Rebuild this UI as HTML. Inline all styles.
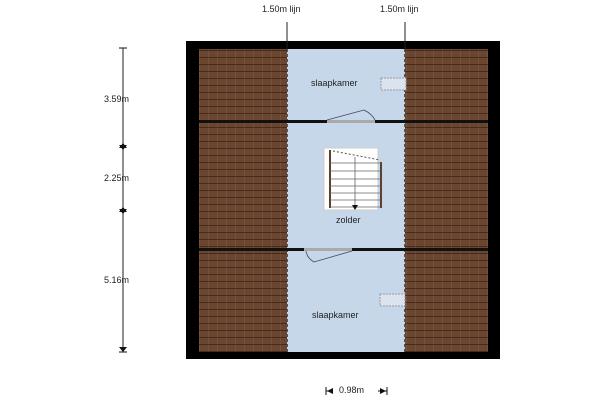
<!DOCTYPE html>
<html><head><style>
body{margin:0;width:600px;height:400px;background:#fff;position:relative;overflow:hidden;font-family:"Liberation Sans",sans-serif;}
.a{position:absolute}
.roof{background-color:#6a4530;background-image:repeating-linear-gradient(0deg,rgba(30,18,10,.5) 0 1px,transparent 1px 7px),repeating-linear-gradient(90deg,rgba(150,110,80,.3) 0 1px,transparent 1px 9px);}
.t{position:absolute;font-size:9px;color:#222;white-space:nowrap}
</style></head><body>
<div class="a" style="left:186px;top:41px;width:314px;height:318px;background:#000"></div>
<div class="a roof" style="left:199px;top:49px;width:289px;height:303px"></div>
<div class="a" style="left:287px;top:49px;width:118px;height:303px;background:#c6d7ea;border-left:1px dashed #555;border-right:1px dashed #555;box-sizing:border-box"></div>
<div class="a" style="left:199px;top:120px;width:289px;height:3px;background:#111"></div>
<div class="a" style="left:199px;top:248px;width:289px;height:3px;background:#111"></div>
<div class="a" style="left:327px;top:120px;width:48px;height:3px;background:#aaa"></div>
<div class="a" style="left:304px;top:248px;width:48px;height:3px;background:#aaa"></div>
<svg class="a" style="left:0;top:0" width="600" height="400">
<path d="M327 120 L364 110 Q372 114 375 120" fill="none" stroke="#445" stroke-width="0.8"/>
<path d="M306 251 Q307 258 314 262 L352 251" fill="none" stroke="#445" stroke-width="0.8"/>
<line x1="287" y1="22" x2="287" y2="49" stroke="#222"/>
<line x1="405" y1="22" x2="405" y2="49" stroke="#222"/>
<line x1="123" y1="48" x2="123" y2="352" stroke="#222"/>
<g fill="#111">
<polygon points="119,145 127,145 123,150"/><polygon points="119,148 127,148 123,143"/>
<polygon points="119,209 127,209 123,214"/><polygon points="119,212 127,212 123,207"/>
<polygon points="119,347 127,347 123,352"/></g>
<line x1="119" y1="48" x2="127" y2="48" stroke="#111"/><line x1="119" y1="352" x2="127" y2="352" stroke="#111"/>
<line x1="326" y1="391" x2="333" y2="391" stroke="#111"/><polygon points="327,391 333,388 333,394" fill="#111"/>
<line x1="378" y1="391" x2="387" y2="391" stroke="#111"/><polygon points="386,391 380,388 380,394" fill="#111"/>
<line x1="326" y1="387" x2="326" y2="395" stroke="#111"/><line x1="387" y1="387" x2="387" y2="395" stroke="#111"/>
<rect x="324" y="148" width="54" height="62" fill="#fff" stroke="#ccc"/>
<line x1="330" y1="150" x2="330" y2="208" stroke="#5a4030" stroke-width="2"/>
<line x1="381" y1="162" x2="381" y2="208" stroke="#5a4030" stroke-width="2"/>
<g stroke="#666" stroke-width="0.8"><line x1="330" y1="163" x2="381" y2="163"/><line x1="330" y1="171" x2="381" y2="171"/><line x1="330" y1="179" x2="381" y2="179"/><line x1="330" y1="186" x2="381" y2="186"/><line x1="330" y1="193" x2="381" y2="193"/><line x1="330" y1="200" x2="381" y2="200"/><line x1="330" y1="207" x2="381" y2="207"/><line x1="355" y1="157" x2="355" y2="207"/></g>
<line x1="333" y1="151" x2="380" y2="160" stroke="#555" stroke-dasharray="2,2"/>
<polygon points="352,205 358,205 355,210" fill="#111"/>
<rect x="381" y="78" width="25" height="12" fill="#dbe4ee" stroke="#999" stroke-dasharray="2,1"/>
<rect x="380" y="294" width="25" height="12" fill="#dbe4ee" stroke="#999" stroke-dasharray="2,1"/>
</svg>
<div class="t" style="left:262px;top:4px">1.50m lijn</div>
<div class="t" style="left:380px;top:4px">1.50m lijn</div>
<div class="t" style="left:311px;top:78px">slaapkamer</div>
<div class="t" style="left:336px;top:215px">zolder</div>
<div class="t" style="left:312px;top:310px">slaapkamer</div>
<div class="t" style="left:104px;top:94px">3.59m</div>
<div class="t" style="left:104px;top:173px">2.25m</div>
<div class="t" style="left:104px;top:275px">5.16m</div>
<div class="t" style="left:339px;top:385px">0.98m</div>
</body></html>
